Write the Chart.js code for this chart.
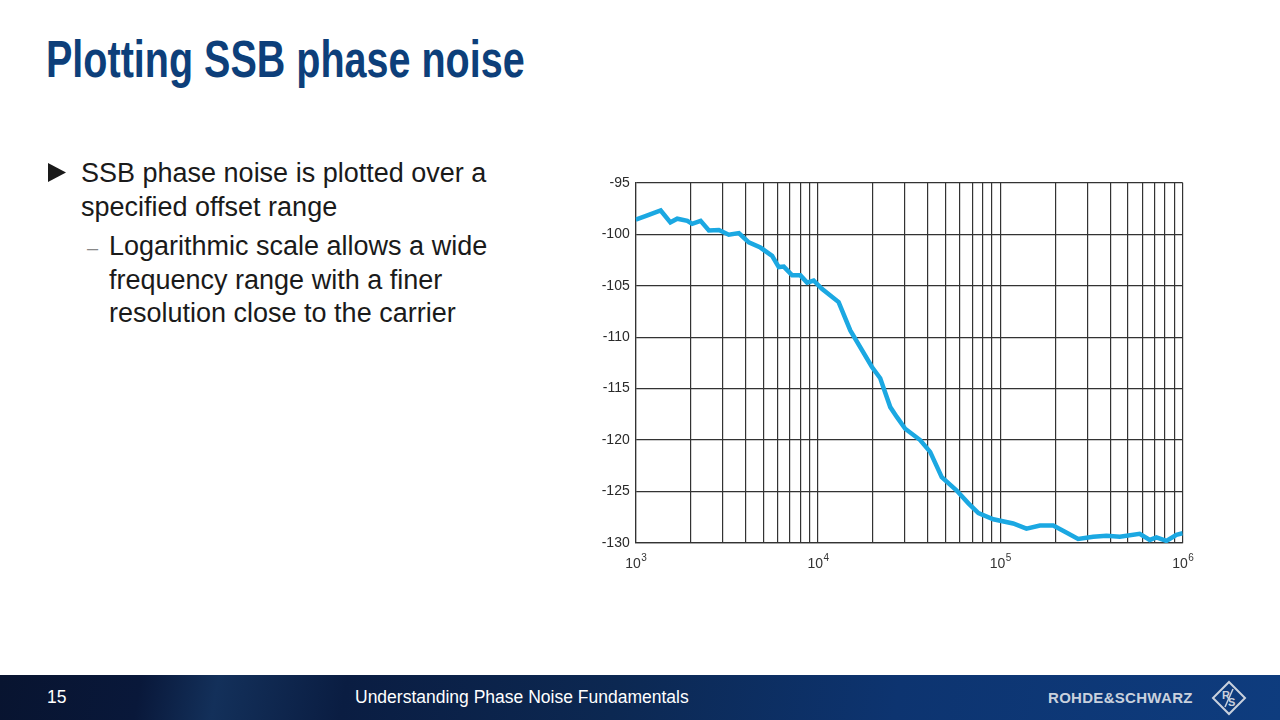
<!DOCTYPE html>
<html>
<head>
<meta charset="utf-8">
<script src="https://cdn.jsdelivr.net/npm/chart.js@4.4.1/dist/chart.umd.min.js"></script>
<style>
    body { margin: 0; width: 1280px; height: 720px; background: #fff; overflow: hidden; position: relative; font-family: "Liberation Sans", Arial, sans-serif; }
    .title { position: absolute; left: 46px; top: 29px; font-size: 52px; line-height: 60px; font-weight: bold; color: #0d3f7a; white-space: nowrap; transform: scaleX(0.76); transform-origin: left top; }
    .txt { position: absolute; font-size: 27px; line-height: 33.5px; color: #1a1a1a; white-space: nowrap; }
    .chart-box { position: absolute; left: 590px; top: 172px; width: 610px; height: 410px; }
    .footer { position: absolute; left: 0; top: 675px; width: 1280px; height: 45px;
        background: linear-gradient(100deg, #081430 0%, #09183a 11%, #13305a 17%, #0a1d42 27%, #0c2852 48%, #0d3470 70%, #0e3c7e 100%); color: #fff; }
    .footer div { position: absolute; top: 0; line-height: 45px; font-size: 17.5px; white-space: nowrap; }
</style>
</head>
<body>
<div class="title">Plotting SSB phase noise</div>

<svg style="position:absolute; left:46px; top:162px;" width="22" height="22"><polygon points="2,1 2,20 20,10.5" fill="#1a1a1a"/></svg>
<div class="txt" style="left:81px; top:157px;">SSB phase noise is plotted over a<br>specified offset range</div>
<div style="position:absolute; left:87px; top:233px; font-size:20px; line-height:30px; color:#888;">&ndash;</div>
<div class="txt" style="left:109px; top:230px;">Logarithmic scale allows a wide<br>frequency range with a finer<br>resolution close to the carrier</div>

<div class="chart-box"><canvas id="noiseChart"></canvas></div>

<div class="footer">
    <div style="left:47px;">15</div>
    <div style="left:355px;">Understanding Phase Noise Fundamentals</div>
    <div style="left:1048px; font-size:15px; font-weight:bold; color:#c9d1dd; letter-spacing:0.3px;">ROHDE&amp;SCHWARZ</div>
    <svg style="position:absolute; left:1210px; top:4px;" width="38" height="38" viewBox="0 0 38 38">
        <polygon points="19,3 35,19 19,35 3,19" fill="none" stroke="#c9d1dd" stroke-width="2"/>
        <text x="12" y="20" font-size="11" font-weight="bold" fill="#c9d1dd" font-family="Liberation Sans">R</text>
        <line x1="23" y1="10" x2="15" y2="28" stroke="#c9d1dd" stroke-width="1.5"/>
        <text x="18" y="27" font-size="11" font-weight="bold" fill="#c9d1dd" font-family="Liberation Sans">S</text>
    </svg>
</div>

<script>
// offset frequency (Hz) and SSB phase noise (dBc/Hz)
let freqs = [1000, 1150, 1371, 1550, 1690, 1920, 2040, 2270, 2520, 2860, 3240, 3680, 4170, 4830, 5600, 6090, 6490, 7210, 8000, 8710, 9460, 10500, 12970, 15030, 19760, 21930, 24900, 27040, 30050, 36300, 41200, 47700, 57600, 66800, 75800, 91500, 117500, 139000, 164800, 195000, 226000, 267000, 323000, 382000, 452000, 581000, 660000, 718000, 814000, 924000, 1000000]
let noise = [-98.6, -98.2, -97.7, -98.85, -98.5, -98.7, -99.0, -98.7, -99.65, -99.6, -100.05, -99.9, -100.8, -101.3, -102.1, -103.2, -103.15, -104.0, -104.0, -104.7, -104.5, -105.3, -106.6, -109.35, -112.9, -114.0, -116.8, -117.75, -118.9, -120.0, -121.15, -123.6, -124.9, -126.15, -127.1, -127.7, -128.1, -128.6, -128.3, -128.3, -128.9, -129.6, -129.4, -129.3, -129.4, -129.1, -129.7, -129.45, -129.8, -129.2, -129.05]

// grid lines on the log axis
let xGridTicks = [1000, 2000, 3000, 4000, 5000, 6000, 7000, 8000, 9000,
    10000, 20000, 30000, 40000, 50000, 60000, 70000, 80000, 90000,
    100000, 200000, 300000, 400000, 500000, 600000, 700000, 800000, 900000, 1000000]
let xLabelExps = [3, 4, 5, 6]

let fontFamily = '"Liberation Sans", Arial, sans-serif'

let decadeLabels = {
    id: 'decadeLabels',
    afterDraw(chart) {
        let ctx = chart.ctx
        let x = chart.scales.x
        ctx.save()
        ctx.fillStyle = '#333'
        ctx.textBaseline = 'alphabetic'
        ctx.textAlign = 'left'
        for (const e of xLabelExps) {
            let px = x.getPixelForValue(Math.pow(10, e))
            ctx.font = `14px ${fontFamily}`
            let w1 = ctx.measureText('10').width
            ctx.font = `10px ${fontFamily}`
            let w2 = ctx.measureText(String(e)).width
            let start = px - (w1 + w2) / 2
            ctx.font = `14px ${fontFamily}`
            ctx.fillText('10', start, x.top + 25)
            ctx.font = `10px ${fontFamily}`
            ctx.fillText(String(e), start + w1 + 0.5, x.top + 18)
        }
        ctx.restore()
    }
}

const config = {
    type: 'line',
    data: {
        datasets: [{
            data: freqs.map((f, i) => ({ x: f, y: noise[i] })),
            borderColor: '#1ba8e2',
            borderWidth: 4.5,
            pointRadius: 0,
            tension: 0,
            fill: false
        }]
    },
    options: {
        responsive: true,
        maintainAspectRatio: false,
        animation: false,
        layout: { padding: { top: 10.7, right: 17.3, left: 0, bottom: 0 } },
        plugins: {
            legend: { display: false },
            tooltip: { enabled: false }
        },
        scales: {
            x: {
                type: 'logarithmic',
                min: 1000,
                max: 1000000,
                afterBuildTicks: (scale) => { scale.ticks = xGridTicks.map(v => ({ value: v })) },
                afterFit: (scale) => { scale.height = 39; scale.paddingLeft = 0; scale.paddingRight = 0 },
                ticks: { display: false, autoSkip: false },
                grid: { color: '#333', lineWidth: 1.2, drawTicks: false },
                border: { color: '#333', width: 1.2 }
            },
            y: {
                min: -130,
                max: -95,
                afterFit: (scale) => { scale.width = 45.7; scale.paddingTop = 0; scale.paddingBottom = 0 },
                ticks: {
                    stepSize: 5,
                    padding: 6,
                    color: '#2a2a2a',
                    font: { size: 14, family: fontFamily }
                },
                grid: { color: '#333', lineWidth: 1.2, drawTicks: false },
                border: { color: '#333', width: 1.2 }
            }
        }
    },
    plugins: [decadeLabels]
}

new Chart(document.getElementById('noiseChart'), config)
</script>
</body>
</html>
